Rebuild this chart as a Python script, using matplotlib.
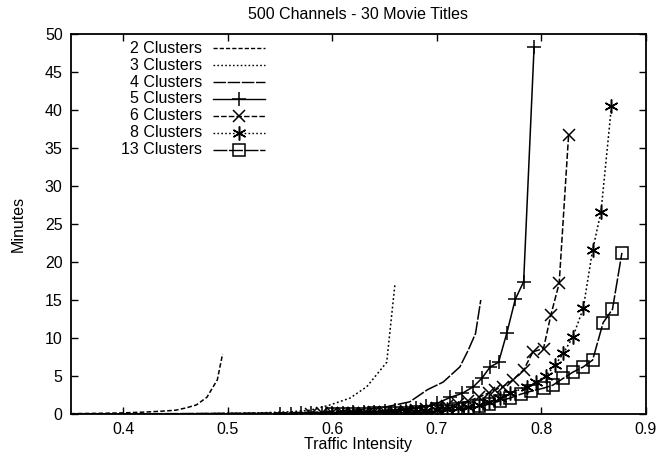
import matplotlib.pyplot as plt
import numpy as np

plt.rcParams['font.family'] = ['Liberation Sans', 'DejaVu Sans']

# waiting time (minutes) vs traffic intensity for each cluster count
x2 = [0.35, 0.38, 0.40, 0.42, 0.44, 0.45, 0.46, 0.47, 0.48, 0.49, 0.495]
y2 = [0.05, 0.1, 0.15, 0.25, 0.4, 0.5, 0.8, 1.2, 2.2, 4.5, 7.9]

x3 = [0.45, 0.50, 0.53, 0.56, 0.579, 0.598, 0.617, 0.633, 0.652, 0.66]
y3 = [0.02, 0.08, 0.15, 0.3, 0.5, 1.2, 2.1, 3.6, 6.8, 17.2]

x4 = [0.35, 0.45, 0.55, 0.60, 0.63, 0.65, 0.674, 0.691, 0.706, 0.722, 0.730, 0.737, 0.742]
y4 = [0.0, 0.05, 0.15, 0.3, 0.6, 0.9, 1.6, 3.2, 4.2, 6.2, 8.4, 10.6, 15.0]

x5 = [0.55, 0.56, 0.57, 0.58, 0.59, 0.60, 0.61, 0.62, 0.63, 0.64, 0.65, 0.66,
      0.67, 0.68, 0.69, 0.70, 0.713, 0.724, 0.735, 0.743, 0.751, 0.759, 0.767,
      0.775, 0.783, 0.793]
y5 = [0.05, 0.06, 0.08, 0.1, 0.12, 0.15, 0.18, 0.22, 0.27, 0.33, 0.4, 0.5,
      0.62, 0.78, 1.0, 1.4, 2.2, 2.7, 3.6, 4.7, 6.2, 6.8, 10.7, 15.1, 17.4, 48.3]

x6 = [0.58, 0.59, 0.60, 0.61, 0.62, 0.63, 0.64, 0.65, 0.66, 0.67, 0.68, 0.69,
      0.70, 0.71, 0.72, 0.73, 0.74, 0.75, 0.756, 0.763, 0.773, 0.783, 0.792,
      0.802, 0.809, 0.817, 0.826]
y6 = [0.05, 0.07, 0.09, 0.11, 0.14, 0.17, 0.21, 0.26, 0.32, 0.4, 0.5, 0.62,
      0.78, 1.0, 1.3, 1.7, 2.2, 2.8, 3.2, 3.6, 4.5, 5.8, 8.2, 8.6, 13.0, 17.2, 36.7]

x8 = [0.60, 0.61, 0.62, 0.63, 0.64, 0.65, 0.66, 0.67, 0.68, 0.69, 0.70, 0.71,
      0.72, 0.73, 0.74, 0.75, 0.76, 0.77, 0.786, 0.795, 0.804, 0.813, 0.821,
      0.830, 0.840, 0.849, 0.857, 0.867]
y8 = [0.05, 0.06, 0.08, 0.1, 0.12, 0.15, 0.19, 0.24, 0.3, 0.38, 0.48, 0.6,
      0.76, 0.95, 1.2, 1.6, 2.1, 2.7, 3.6, 4.2, 5.0, 6.4, 8.0, 10.1, 13.9,
      21.6, 26.6, 40.5]

x13 = [0.60, 0.61, 0.62, 0.63, 0.64, 0.65, 0.66, 0.67, 0.68, 0.69, 0.70, 0.71,
       0.72, 0.73, 0.74, 0.75, 0.76, 0.77, 0.78, 0.79, 0.802, 0.811, 0.821,
       0.830, 0.840, 0.849, 0.859, 0.868, 0.877]
y13 = [0.03, 0.04, 0.05, 0.06, 0.08, 0.1, 0.13, 0.17, 0.22, 0.28, 0.36, 0.46,
       0.6, 0.78, 1.0, 1.3, 1.7, 2.1, 2.6, 3.0, 3.4, 3.8, 4.7, 5.5, 6.2, 7.1,
       12.0, 13.8, 21.2]

series = [
    ('2 Clusters', x2, y2, dict(ls=(0, (3, 1.5)), marker=None)),
    ('3 Clusters', x3, y3, dict(ls=(0, (1.2, 1.6)), marker=None)),
    ('4 Clusters', x4, y4, dict(ls=(0, (9, 1.2)), marker=None)),
    ('5 Clusters', x5, y5, dict(ls='-', marker='+', ms=10)),
    ('6 Clusters', x6, y6, dict(ls=(0, (4, 1.5)), marker='x', ms=9)),
    ('8 Clusters', x8, y8, dict(ls=(0, (1.2, 1.6)), marker=(6, 2, 0), ms=10)),
    ('13 Clusters', x13, y13, dict(ls=(0, (10, 1.2)), marker='s', ms=8, mfc='none')),
]

fig = plt.figure(figsize=(6.59, 4.59), dpi=100)
ax = fig.add_axes([0.1077, 0.098, 0.8725, 0.828])

for name, xs, ys, st in series:
    ax.plot(xs, ys, color='black', lw=1.1, mew=1.1, **st)

# legend drawn by hand so the labels can be right-aligned like gnuplot
ly = 0.963
for name, xs, ys, st in series:
    ax.text(0.228, ly, name, transform=ax.transAxes, ha='right', va='center',
            fontsize=11.5)
    ax.plot([0.247, 0.292, 0.337], [ly, ly, ly], transform=ax.transAxes,
            color='black', lw=1.0, mew=1.1, markevery=[1], clip_on=False, **st)
    ly -= 0.0447

ax.set_xlim(0.35, 0.9)
ax.set_ylim(0, 50)
ax.set_xticks(np.arange(0.4, 0.91, 0.1))
ax.set_xticklabels(['0.4', '0.5', '0.6', '0.7', '0.8', '0.9'])
ax.set_yticks(np.arange(0, 51, 5))
ax.tick_params(direction='in', top=True, right=True, length=5, width=1,
               labelsize=11.5, pad=6)
for sp in ax.spines.values():
    sp.set_linewidth(1.3)

ax.set_xlabel('Traffic Intensity', fontsize=11.5, labelpad=0)
ax.set_ylabel('Minutes', fontsize=11.5, labelpad=14)
ax.set_title('500 Channels - 30 Movie Titles', fontsize=11.5, pad=11)

fig.savefig('out.png', dpi=100)
